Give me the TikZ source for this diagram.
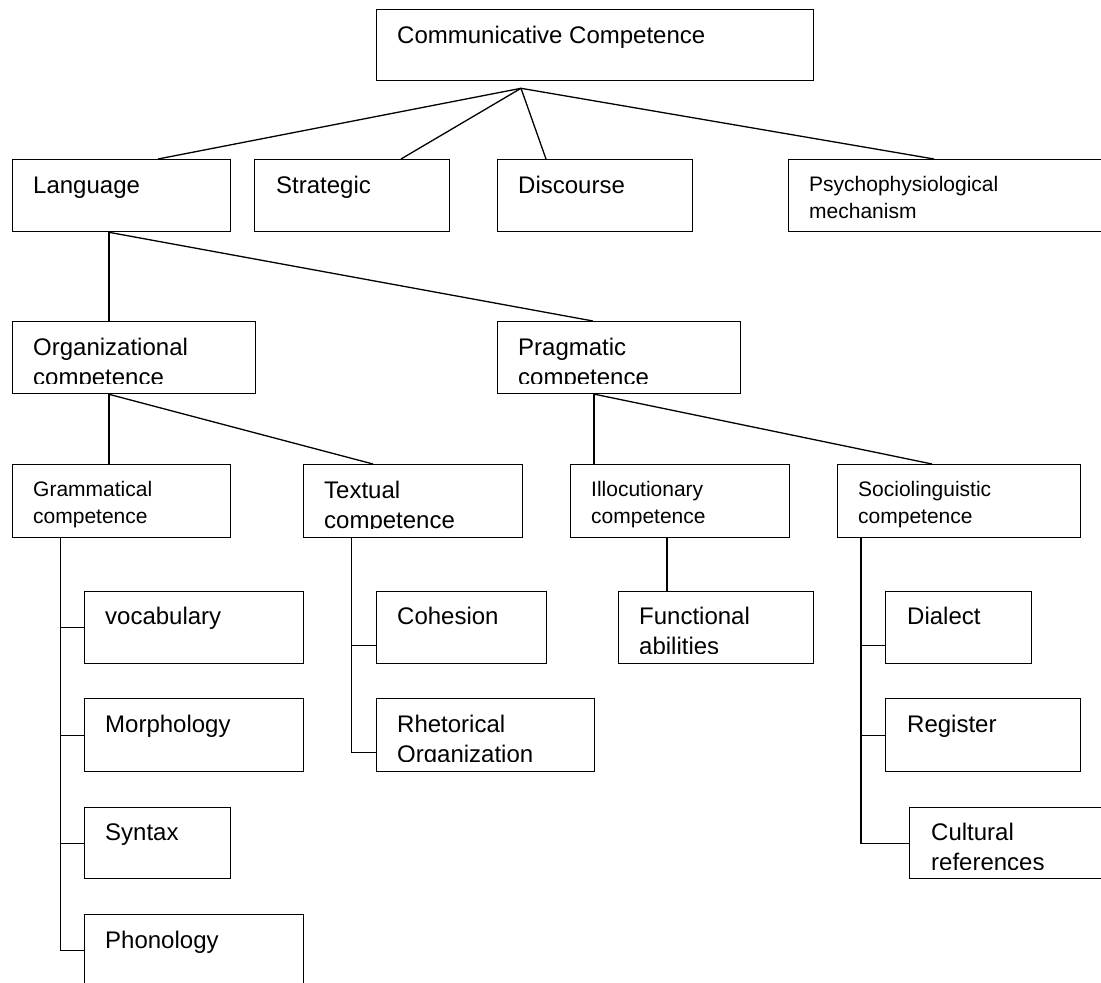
\documentclass[tikz,border=0pt]{standalone}
\usepackage{fontspec}
\setmainfont{Liberation Sans}
\begin{document}
\begin{tikzpicture}[x=1pt,y=-1pt,
  box/.style={draw, line width=1.3pt, rectangle, inner sep=0pt, anchor=north west},
  big/.style={anchor=base west, inner sep=0pt, font=\fontsize{24}{27}\selectfont},
  small/.style={anchor=base west, inner sep=0pt, font=\fontsize{21}{27}\selectfont},
  link/.style={line width=1.3pt}]
\clip (0,0) rectangle (1101,983);
\fill[white] (0,0) rectangle (1101,983);

% ---- boxes ----
\node[box, minimum width=437pt, minimum height=71pt] (cc) at (376,9) {};
\node[box, minimum width=218pt, minimum height=72pt] (lang) at (12,159) {};
\node[box, minimum width=195pt, minimum height=72pt] (strat) at (254,159) {};
\node[box, minimum width=195pt, minimum height=72pt] (disc) at (497,159) {};
\node[box, minimum width=340pt, minimum height=72pt] (psy) at (788,159) {};
\node[box, minimum width=243pt, minimum height=72pt] (org) at (12,321) {};
\node[box, minimum width=243pt, minimum height=72pt] (prag) at (497,321) {};
\node[box, minimum width=218pt, minimum height=73pt] (gram) at (12,464) {};
\node[box, minimum width=219pt, minimum height=73pt] (text) at (303,464) {};
\node[box, minimum width=219pt, minimum height=73pt] (illoc) at (570,464) {};
\node[box, minimum width=243pt, minimum height=73pt] (socio) at (837,464) {};
\node[box, minimum width=219pt, minimum height=72pt] (vocab) at (84,591) {};
\node[box, minimum width=219pt, minimum height=73pt] (morph) at (84,698) {};
\node[box, minimum width=146pt, minimum height=71pt] (syn) at (84,807) {};
\node[box, minimum width=219pt, minimum height=72pt] (phon) at (84,914) {};
\node[box, minimum width=170pt, minimum height=72pt] (coh) at (376,591) {};
\node[box, minimum width=218pt, minimum height=73pt] (rhet) at (376,698) {};
\node[box, minimum width=195pt, minimum height=72pt] (func) at (618,591) {};
\node[box, minimum width=146pt, minimum height=72pt] (dial) at (885,591) {};
\node[box, minimum width=195pt, minimum height=73pt] (reg) at (885,698) {};
\node[box, minimum width=220pt, minimum height=71pt] (cult) at (909,807) {};

% ---- texts ----
\node[big] (ccT) at (397,43) {Communicative Competence};
\node[big] (langT) at (33,193) {Language};
\node[big] (stratT) at (276,193) {Strategic};
\node[big] (discT) at (518,193) {Discourse};
\node[small] (psyT1) at (809,191) {Psychophysiological};
\node[small] (psyT2) at (809,218) {mechanism};
\node[big] (orgT1) at (33,355) {Organizational};
\node[big] (pragT1) at (518,355) {Pragmatic};
\node[small] (gramT1) at (33,496) {Grammatical};
\node[small] (gramT2) at (33,523) {competence};
\node[big] (textT1) at (324,498) {Textual};
\node[small] (illocT1) at (591,496) {Illocutionary};
\node[small] (illocT2) at (591,523) {competence};
\node[small] (socioT1) at (858,496) {Sociolinguistic};
\node[small] (socioT2) at (858,523) {competence};
\node[big] (vocabT) at (105,624) {vocabulary};
\node[big] (morphT) at (105,732) {Morphology};
\node[big] (synT) at (105,840) {Syntax};
\node[big] (phonT) at (105,948) {Phonology};
\node[big] (cohT) at (397,624) {Cohesion};
\node[big] (rhetT1) at (397,732) {Rhetorical};
\node[big] (funcT1) at (639,624) {Functional};
\node[big] (dialT) at (907,624) {Dialect};
\node[big] (regT) at (907,732) {Register};
\node[big] (cultT1) at (931,840) {Cultural};

% second lines that the boxes cut off
\begin{scope}
  \clip (org.north west) rectangle ([yshift=11pt]org.south east);
  \node[big] (orgT2) at (33,385) {competence};
\end{scope}
\begin{scope}
  \clip (prag.north west) rectangle ([yshift=11pt]prag.south east);
  \node[big] (pragT2) at (518,385) {competence};
\end{scope}
\begin{scope}
  \clip (text.north west) rectangle ([yshift=10pt]text.south east);
  \node[big] (textT2) at (324,528) {competence};
\end{scope}
\begin{scope}
  \clip (rhet.north west) rectangle ([yshift=11pt]rhet.south east);
  \node[big] (rhetT2) at (397,762) {Organization};
\end{scope}
\begin{scope}
  \clip (func.north west) rectangle ([yshift=11pt]func.south east);
  \node[big] (funcT2) at (639,654) {abilities};
\end{scope}
\begin{scope}
  \clip (cult.north west) rectangle ([yshift=10pt]cult.south east);
  \node[big] (cultT2) at (931,870) {references};
\end{scope}

% ---- connectors ----
\coordinate (apex) at ([xshift=145pt,yshift=-7pt]cc.south west);
\draw[link] (apex) -- ([xshift=146pt]lang.north west);
\draw[link] (apex) -- ([xshift=147pt]strat.north west);
\draw[link] (apex) -- ([xshift=49pt]disc.north west);
\draw[link] (apex) -- ([xshift=146pt]psy.north west);

\draw[link] ([xshift=97pt]lang.south west) -- ([xshift=97pt]org.north west);
\draw[link] ([xshift=97pt]lang.south west) -- ([xshift=96pt]prag.north west);

\draw[link] ([xshift=97pt]org.south west) -- ([xshift=97pt]gram.north west);
\draw[link] ([xshift=97pt]org.south west) -- ([xshift=70pt]text.north west);

\draw[link] ([xshift=97pt]prag.south west) -- ([xshift=24pt]illoc.north west);
\draw[link] ([xshift=98pt]prag.south west) -- ([xshift=95pt]socio.north west);

\draw[link] ([xshift=48.5pt]gram.south west) |- (vocab.west);
\draw[link] ([xshift=48.5pt]gram.south west) |- (morph.west);
\draw[link] ([xshift=48.5pt]gram.south west) |- (syn.west);
\draw[link] ([xshift=48.5pt]gram.south west) |- (phon.west);

\draw[link] ([xshift=48.5pt]text.south west) |- ([yshift=-18pt]coh.west);
\draw[link] ([xshift=48.5pt]text.south west) |- ([yshift=-17.5pt]rhet.west);

\draw[link] ([xshift=97pt]illoc.south west) -- ([xshift=49pt]func.north west);

\draw[link] ([xshift=24pt]socio.south west) |- ([yshift=-18pt]dial.west);
\draw[link] ([xshift=24pt]socio.south west) |- (reg.west);
\draw[link] ([xshift=24pt]socio.south west) |- (cult.west);
\end{tikzpicture}
\end{document}
